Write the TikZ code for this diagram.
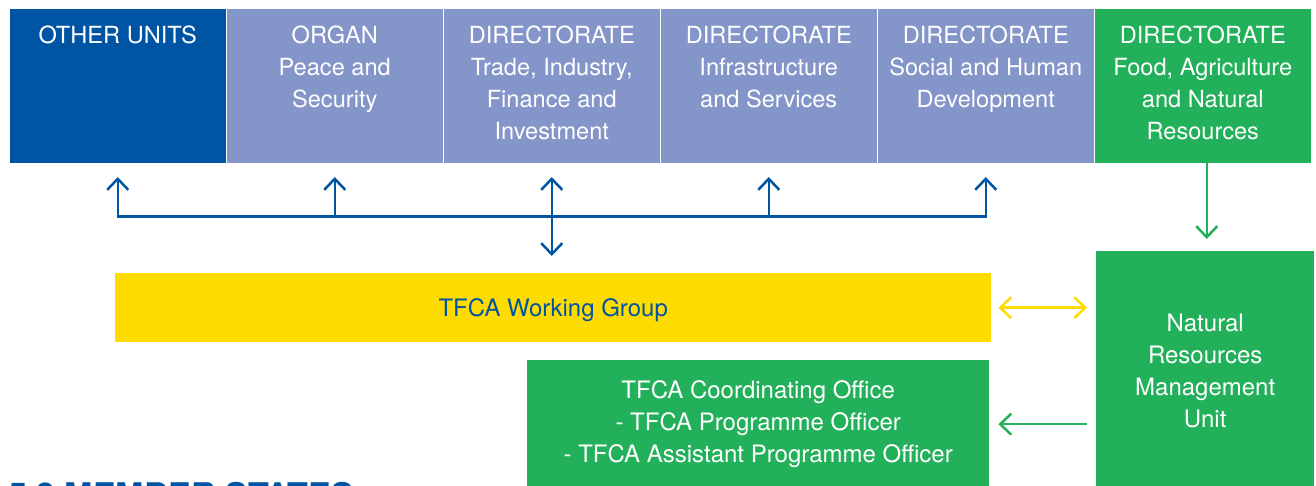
\documentclass[tikz,border=0pt]{standalone}
\usepackage{fontspec}
\setmainfont{TeX Gyre Heros}
\usepackage{xcolor}
\usetikzlibrary{arrows.meta,positioning}
\definecolor{unitblue}{RGB}{0,84,164}
\definecolor{dirpurple}{RGB}{132,149,201}
\definecolor{dirgreen}{RGB}{34,176,90}
\definecolor{tfcayellow}{RGB}{255,220,0}
\tikzset{
  unitbox/.style={fill=#1, anchor=north west, minimum width=215.5pt, minimum height=154pt, inner sep=0pt, outer sep=0pt},
  unittext/.style={text=white, align=center, font=\fontsize{23.6}{32}\selectfont, anchor=north, inner sep=0pt, yshift=-16.5pt},
  panel/.style={fill=#1, anchor=north west, text=white, align=center, font=\fontsize{24}{32}\selectfont, inner sep=0pt},
  link/.style={line width=2.5pt, -{Straight Barb[length=11pt,width=21pt]}},
  dlink/.style={line width=2.5pt, {Straight Barb[length=11pt,width=21pt]}-{Straight Barb[length=11pt,width=21pt]}},
}

\begin{document}
\begin{tikzpicture}[x=1pt,y=-1pt]
  \useasboundingbox (0,0) rectangle (1316,486);
  \clip (0,0) rectangle (1316,486);

  \node[unitbox=unitblue] (u1) at (10,9) {};
  \node[unitbox=dirpurple, right=1.5pt of u1] (u2) {};
  \node[unitbox=dirpurple, right=1.5pt of u2] (u3) {};
  \node[unitbox=dirpurple, right=1.5pt of u3] (u4) {};
  \node[unitbox=dirpurple, right=1.5pt of u4] (u5) {};
  \node[unitbox=dirgreen, right=1.5pt of u5] (u6) {};

  \node[unittext] (t1) at (u1.north) {OTHER UNITS};
  \node[unittext] (t2) at (u2.north) {ORGAN\\Peace and\\Security};
  \node[unittext] (t3) at (u3.north) {DIRECTORATE\\Trade, Industry,\\Finance and\\Investment};
  \node[unittext] (t4) at (u4.north) {DIRECTORATE\\Infrastructure\\and Services};
  \node[unittext] (t5) at (u5.north) {DIRECTORATE\\Social and Human\\Development};
  \node[unittext] (t6) at (u6.north) {DIRECTORATE\\Food, Agriculture\\and Natural\\Resources};

  \node[panel=tfcayellow, text=unitblue, minimum width=876pt, minimum height=69pt, text depth=0pt] (wg) at (115,273) {TFCA Working Group};
  \node[panel=dirgreen, minimum width=218pt, minimum height=240pt] (nrmu) at (1096,251) {Natural\\Resources\\Management\\Unit};
  \node[panel=dirgreen, minimum width=462pt, minimum height=128pt] (cof) at (527,360) {TFCA Coordinating Office\\- TFCA Programme Officer\\- TFCA Assistant Programme Officer};

  \node[anchor=north west, inner sep=0pt, text=unitblue, font=\fontsize{34}{40}\selectfont\bfseries] (heading) at (8,482.5) {5.3 MEMBER STATES};

  \coordinate (bus) at (0,216.5);
  \draw[unitblue, dlink, shorten <=14pt, shorten >=14pt] (u1.south) -- (u1.south |- bus) -- (u5.south |- bus) -- (u5.south);
  \draw[unitblue, link, shorten >=14pt] (u2.south |- bus) -- (u2.south);
  \draw[unitblue, link, shorten >=14pt] (u4.south |- bus) -- (u4.south);
  \draw[unitblue, dlink, shorten <=14pt, shorten >=17pt] (u3.south) -- (u3.south |- wg.north);

  \draw[dirgreen, link, shorten >=12pt] ([xshift=4pt]u6.south) -- ([xshift=4pt]u6.south |- nrmu.north);
  \draw[tfcayellow, dlink, shorten <=7pt, shorten >=9pt] (wg.east) -- (wg.east -| nrmu.west);
  \draw[dirgreen, link, shorten <=9pt, shorten >=9pt] (cof.east -| nrmu.west) -- (cof.east);
\end{tikzpicture}
\end{document}
